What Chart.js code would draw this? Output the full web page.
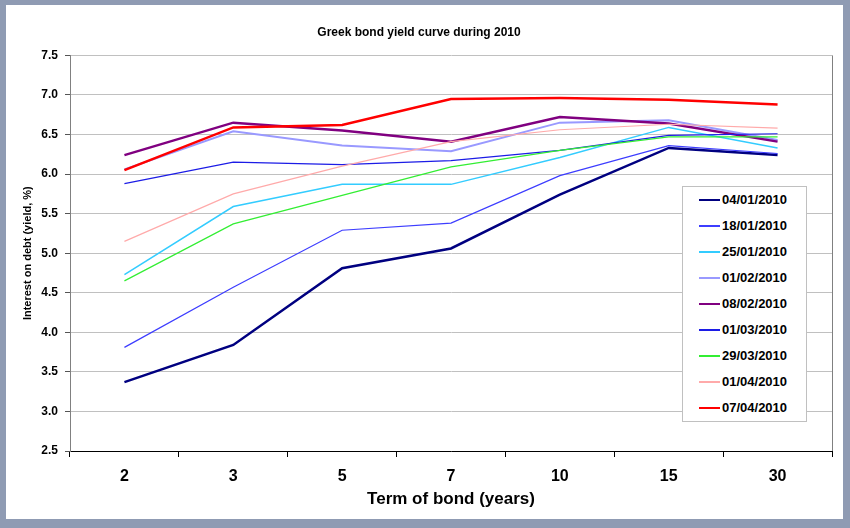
<!DOCTYPE html>
<html>
<head>
<meta charset="utf-8">
<script src="https://cdn.jsdelivr.net/npm/chart.js@4/dist/chart.umd.min.js"></script>
<style>
  body { margin: 0; width: 850px; height: 528px; overflow: hidden; background: #8f9bb3; font-family: "Liberation Sans", Arial, sans-serif; }
  #panel { position: absolute; left: 6px; top: 5px; width: 837px; height: 514px; background: #fff; }
  #legend { position: absolute; left: 676px; top: 181px; width: 123px; height: 234px; border: 1px solid #c0c0c0; background: #fff; }
  .row { position: relative; height: 26px; }
  .row .swatch { position: absolute; left: 16px; top: 13px; width: 21px; }
  .row .lbl { position: absolute; left: 39px; top: 5px; font-size: 13px; font-weight: bold; color: #000; line-height: 16px; }
</style>
</head>
<body>
<div id="panel">
  <canvas id="chart" width="837" height="514"></canvas>
  <div id="legend"></div>
</div>
<script>
const terms = ['2', '3', '5', '7', '10', '15', '30'];
const seriesNames = ['04/01/2010', '18/01/2010', '25/01/2010', '01/02/2010', '08/02/2010',
                     '01/03/2010', '29/03/2010', '01/04/2010', '07/04/2010'];

const y0401 = [3.37, 3.84, 4.81, 5.06, 5.74, 6.33, 6.24];
const y1801 = [3.81, 4.57, 5.29, 5.38, 5.98, 6.36, 6.26];
const y2501 = [4.73, 5.59, 5.87, 5.87, 6.21, 6.59, 6.33];
const y0102 = [6.06, 6.54, 6.36, 6.29, 6.65, 6.68, 6.43];
const y0802 = [6.24, 6.65, 6.55, 6.41, 6.72, 6.64, 6.41];
const y0103 = [5.88, 6.15, 6.12, 6.17, 6.30, 6.49, 6.51];
const y2903 = [4.65, 5.37, 5.73, 6.09, 6.30, 6.47, 6.47];
const y0104 = [5.15, 5.75, 6.10, 6.41, 6.56, 6.63, 6.58];
const y0704 = [6.05, 6.59, 6.62, 6.95, 6.96, 6.94, 6.88];

const seriesData = [y0401, y1801, y2501, y0102, y0802, y0103, y2903, y0104, y0704];
const colors = ['#000080', '#3d3dff', '#33ccff', '#9999ff', '#800080', '#1c1ce6', '#33ee33', '#ffaaaa', '#ff0000'];
const widths = [2.5, 1.2, 1.5, 2, 2.5, 1.2, 1.2, 1.2, 2.5];

const yTicks = [2.5, 3.0, 3.5, 4.0, 4.5, 5.0, 5.5, 6.0, 6.5, 7.0, 7.5];

const FONT = '"Liberation Sans", Arial, sans-serif';

// right edge of the plot frame
const frameRight = {
  id: 'frameRight',
  afterDraw(chart) {
    const { ctx, chartArea: a } = chart;
    ctx.save();
    ctx.strokeStyle = '#808080';
    ctx.lineWidth = 1;
    ctx.beginPath();
    ctx.moveTo(Math.round(a.right) + 0.5, a.top);
    ctx.lineTo(Math.round(a.right) + 0.5, a.bottom);
    ctx.stroke();
    ctx.restore();
  }
};

new Chart(document.getElementById('chart'), {
  type: 'line',
  data: {
    labels: terms,
    datasets: seriesNames.map((name, i) => ({
      label: name,
      data: seriesData[i],
      borderColor: colors[i],
      borderWidth: widths[i],
      pointRadius: 0,
      tension: 0,
      fill: false,
      order: seriesNames.length - i
    }))
  },
  options: {
    responsive: false,
    animation: false,
    layout: { padding: { left: 0, right: 11, top: 0, bottom: 6 } },
    plugins: {
      legend: { display: false },
      tooltip: { enabled: false },
      title: {
        display: true,
        text: 'Greek bond yield curve during 2010',
        color: '#000',
        font: { family: FONT, size: 12, weight: 'bold' },
        padding: { top: 20, bottom: 16 }
      }
    },
    scales: {
      x: {
        offset: true,
        grid: { offset: true, drawOnChartArea: false, drawTicks: true, tickLength: 6, tickColor: '#000' },
        border: { color: '#000', width: 1 },
        ticks: { color: '#000', font: { family: FONT, size: 16, weight: 'bold' }, padding: 10 },
        title: {
          display: true,
          text: 'Term of bond (years)',
          color: '#000',
          font: { family: FONT, size: 17, weight: 'bold' },
          padding: { top: 4, bottom: 3 }
        },
        afterFit: s => { s.height = 62; }
      },
      y: {
        min: 2.5,
        max: 7.5,
        afterBuildTicks: s => { s.ticks = yTicks.map(v => ({ value: v })); },
        grid: { color: '#c0c0c0', tickLength: 5, tickColor: '#555' },
        border: { color: '#808080', width: 1 },
        ticks: {
          color: '#000',
          font: { family: FONT, size: 12, weight: 'bold' },
          padding: 7,
          callback: v => Number(v).toFixed(1)
        },
        title: {
          display: true,
          text: 'Interest on debt (yield, %)',
          color: '#000',
          font: { family: FONT, size: 11, weight: 'bold' },
          padding: { top: 15, bottom: 0 }
        },
        afterFit: s => { s.width = 64; }
      }
    }
  },
  plugins: [frameRight]
});

// legend box, built from the same arrays
const legend = document.getElementById('legend');
legend.innerHTML = seriesNames.map((name, i) =>
  `<div class="row"><div class="swatch" style="border-top:${Math.max(2, widths[i])}px solid ${colors[i]};margin-top:-${Math.max(2, widths[i]) / 2}px"></div>` +
  `<div class="lbl">${name}</div></div>`
).join('');
</script>
</body>
</html>
